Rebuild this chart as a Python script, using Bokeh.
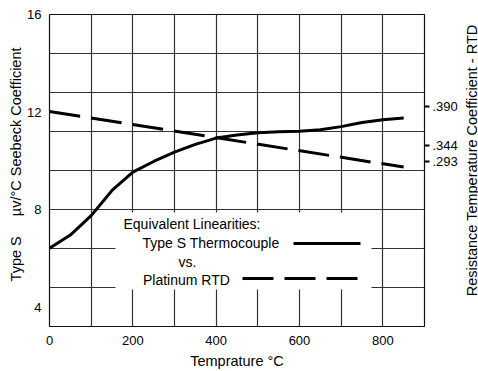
import math
from bokeh.plotting import figure
from bokeh.layouts import row
from bokeh.models import Range1d, LinearAxis, FixedTicker, BoxAnnotation, Label, Arrow
from bokeh.embed import file_html
from bokeh.resources import INLINE

# ---- data ----
temp_c = [0, 50, 100, 150, 200, 250, 300, 350, 400, 450, 500, 550, 600, 650, 700, 750, 800, 850]
type_s_seebeck = [6.41, 6.95, 7.75, 8.78, 9.53, 9.97, 10.35, 10.67, 10.93, 11.06, 11.15, 11.19,
                  11.21, 11.27, 11.40, 11.57, 11.68, 11.75]
rtd_temp_c = [0, 850]
rtd_coefficient = [12.02, 9.74]

x_tick_values = [0, 200, 400, 600, 800]
y_tick_values = [4, 8, 12, 16]
x_grid_values = [100, 200, 300, 400, 500, 600, 700, 800]
y_grid_values = [4.8, 6.4, 8.0, 9.6, 11.2, 12.8, 14.4]
rtd_tick_values = [12.22, 10.63, 9.97]
rtd_tick_labels = [".390", ".344", ".293"]

FONT = "Liberation Sans"
NB = "\u00a0"

p = figure(frame_width=375, frame_height=312, x_range=Range1d(0, 900), y_range=Range1d(3.2, 16),
           output_backend="svg", toolbar_location=None,
           min_border_left=49, min_border_top=14, min_border_right=0, min_border_bottom=44)
p.background_fill_color = "white"
p.border_fill_color = "white"
p.outline_line_color = "#111111"
p.outline_line_width = 1.2

# grid
p.xgrid.ticker = FixedTicker(ticks=x_grid_values)
p.ygrid.ticker = FixedTicker(ticks=y_grid_values)
for g in (p.xgrid, p.ygrid):
    g.grid_line_color = "#333333"
    g.grid_line_width = 1.2
    g.grid_line_alpha = 1.0

xa = p.below[0]
xa.ticker = FixedTicker(ticks=x_tick_values)
xa.axis_label = "Temprature °C"
ya = p.left[0]
ya.ticker = FixedTicker(ticks=y_tick_values)
ya.axis_label = NB * 3 + "Type S" + NB * 5 + "µv/°C Seebeck Coefficient"

rtd_axis = LinearAxis(ticker=FixedTicker(ticks=rtd_tick_values),
                      major_label_overrides={v: t for v, t in zip(rtd_tick_values, rtd_tick_labels)})
p.add_layout(rtd_axis, "right")

for ax in (xa, ya, rtd_axis):
    ax.axis_line_color = None
    ax.minor_tick_line_color = None
    ax.major_tick_in = 0
    ax.major_label_text_font = FONT
    ax.major_label_text_font_size = "13px"
    ax.major_label_text_color = "black"
    ax.axis_label_text_font = FONT
    ax.axis_label_text_font_size = "14.5px"
    ax.axis_label_text_font_style = "normal"
    ax.axis_label_text_color = "black"

xa.major_tick_out = 0
xa.major_label_standoff = 9
xa.axis_label_standoff = 5
ya.major_tick_out = 0
ya.major_label_standoff = 8
ya.axis_label_standoff = 0
rtd_axis.major_tick_out = 5
rtd_axis.major_tick_line_width = 2
rtd_axis.major_tick_line_color = "black"
rtd_axis.major_label_standoff = 3

# curves
p.line(temp_c, type_s_seebeck, line_color="black", line_width=3)
p.line(rtd_temp_c, rtd_coefficient, line_color="black", line_width=3, line_dash="31 11")

# legend panel (screen units relative to the plot frame)
p.add_layout(BoxAnnotation(left=66, right=322, bottom=37, top=114,
                           left_units="screen", right_units="screen",
                           bottom_units="screen", top_units="screen",
                           fill_color="white", fill_alpha=1.0, line_color=None))

def lab(text, x, y, align="left"):
    p.add_layout(Label(x=x, y=y, x_units="screen", y_units="screen", text=text,
                       text_font=FONT, text_font_size="14px", text_color="black",
                       text_align=align, text_baseline="middle"))

lab("Equivalent Linearities:", 74, 103)
lab("Type S Thermocouple", 93, 84)
lab("vs.", 138, 65, "center")
lab("Platinum RTD", 93.5, 47)

p.add_layout(Arrow(start=None, end=None, x_start=244, y_start=83, x_end=311, y_end=83,
                   start_units="screen", end_units="screen",
                   line_color="black", line_width=3))
p.add_layout(Arrow(start=None, end=None, x_start=193, y_start=48, x_end=310, y_end=48,
                   start_units="screen", end_units="screen",
                   line_color="black", line_width=3, line_dash="31 11"))

# narrow companion figure that carries the right-hand title (reads bottom-to-top)
p2 = figure(frame_width=1, frame_height=312, x_range=Range1d(0, 1), y_range=Range1d(0, 1),
            output_backend="svg", toolbar_location=None,
            min_border_left=17, min_border_right=0, min_border_top=14, min_border_bottom=44)
p2.outline_line_color = None
p2.background_fill_color = "white"
p2.border_fill_color = "white"
p2.xaxis.visible = False
p2.grid.visible = False
ra = p2.left[0]
ra.ticker = FixedTicker(ticks=[])
ra.axis_line_color = None
ra.major_tick_line_color = None
ra.minor_tick_line_color = None
ra.major_label_text_font_size = "0px"
ra.major_label_standoff = 0
ra.axis_label = NB * 5 + "Resistance Temperature Coefficient - RTD"
ra.axis_label_standoff = 0
ra.axis_label_text_font = FONT
ra.axis_label_text_font_size = "14.5px"
ra.axis_label_text_font_style = "normal"
ra.axis_label_text_color = "black"

layout = row(p, p2)
open("out.html", "w").write(file_html(layout, INLINE))
